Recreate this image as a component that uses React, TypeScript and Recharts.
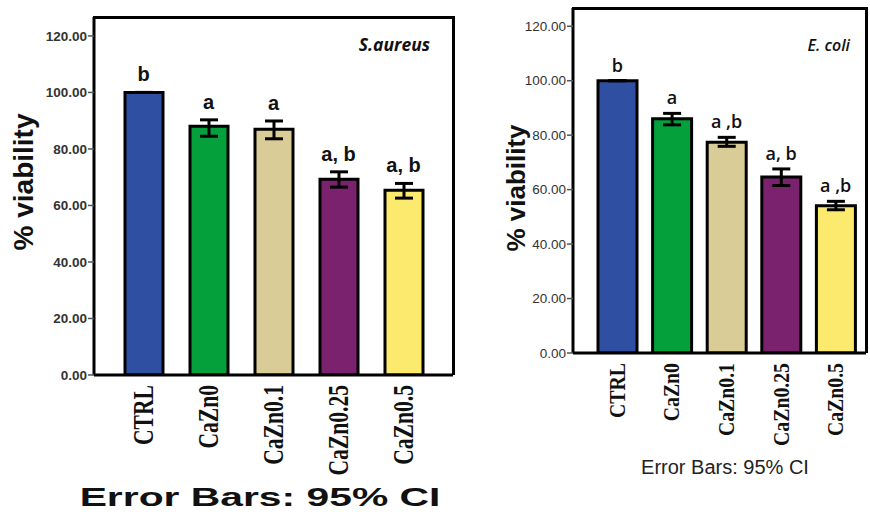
import React from "react";
import {
  Bar,
  Cell,
  ComposedChart,
  ErrorBar,
  LabelList,
  Line,
  XAxis,
  YAxis
} from "recharts";

const categories = ["CTRL", "CaZn0", "CaZn0.1", "CaZn0.25", "CaZn0.5"];
const barColors = ["#2f50a2", "#04a03c", "#d9cc97", "#7b226f", "#fcea6e"];
const yTicks = [0, 20, 40, 60, 80, 100, 120];

// S. aureus panel
const aureusMean = [100, 88.0, 87.0, 69.3, 65.4];
const aureusLow = [100, 84.5, 83.6, 66.5, 62.6];
const aureusHigh = [100, 90.3, 89.9, 71.9, 67.8];
const aureusLetters = ["b", "a", "a", "a, b", "a, b"];

// E. coli panel
const coliMean = [100, 86.0, 77.4, 64.6, 54.1];
const coliLow = [100, 83.8, 75.9, 61.5, 52.6];
const coliHigh = [100, 88.0, 79.2, 67.6, 55.7];
const coliLetters = ["b", "a", "a ,b", "a, b", "a ,b"];

function buildRows(mean: number[], low: number[], high: number[], letters: string[]) {
  return categories.map((name, i) => ({
    name,
    mean: mean[i],
    err: [mean[i] - low[i], high[i] - mean[i]],
    high: high[i],
    letter: letters[i]
  }));
}

const aureusRows = buildRows(aureusMean, aureusLow, aureusHigh, aureusLetters);
const coliRows = buildRows(coliMean, coliLow, coliHigh, coliLetters);

type PanelProps = {
  rows: any[];
  left: number;
  width: number;
  margin: { top: number; right: number; bottom: number; left: number };
  xHeight: number;
  xPad: { left: number; right: number };
  barSize: number;
  tickBold: boolean;
  catSize: number;
  catScale: number;
  letterFont: string;
  letterWeight: string;
  letterSize: number;
  letterOffset: number;
};

function Panel(p: PanelProps) {
  const CatTick = (t: any) => (
    <g transform={`translate(${t.x},${t.y + 2})`}>
      <text
        transform={`rotate(-90) scale(${p.catScale},1)`}
        textAnchor="end"
        dominantBaseline="central"
        fontFamily="'Liberation Serif', 'Times New Roman', serif"
        fontWeight="bold"
        fontSize={p.catSize}
        fill="#111"
      >
        {t.payload.value}
      </text>
    </g>
  );

  const Letter = (l: any) => (
    <text
      x={l.x}
      y={l.y - p.letterOffset}
      textAnchor="middle"
      fontFamily={p.letterFont}
      fontWeight={p.letterWeight}
      fontSize={p.letterSize}
      fill="#111"
    >
      {l.value}
    </text>
  );

  // plot box, used only for the top/right frame lines (SPSS style box)
  const plotW = p.width - p.margin.left - 60 - p.margin.right;
  const plotH = 512 - p.margin.top - p.margin.bottom - p.xHeight;

  return (
    <div style={{ position: "absolute", left: p.left, top: 0, width: p.width, height: 512 }}>
      <ComposedChart width={p.width} height={512} data={p.rows} margin={p.margin}>
        <XAxis
          dataKey="name"
          height={p.xHeight}
          padding={p.xPad}
          tickLine={false}
          axisLine={{ stroke: "#000", strokeWidth: 3 }}
          tick={CatTick}
          interval={0}
        />
        <YAxis
          domain={[0, 126.7]}
          ticks={yTicks}
          width={60}
          tickFormatter={(v: number) => v.toFixed(2)}
          tickSize={6}
          tickMargin={1}
          tickLine={{ stroke: "#555", strokeWidth: 1.5 }}
          axisLine={{ stroke: "#000", strokeWidth: 3 }}
          tick={{ fill: "#333", fontSize: 13.5, fontWeight: p.tickBold ? "bold" : "normal", fontFamily: "'Liberation Sans', Arial, sans-serif" }}
          allowDataOverflow
        />
        <Bar dataKey="mean" barSize={p.barSize} stroke="#000" strokeWidth={3} isAnimationActive={false}>
          {p.rows.map((r, i) => (
            <Cell key={r.name} fill={barColors[i]} />
          ))}
          <ErrorBar dataKey="err" direction="y" width={9} stroke="#000" strokeWidth={3} />
        </Bar>
        <Line dataKey="high" stroke="none" dot={false} activeDot={false} isAnimationActive={false}>
          <LabelList dataKey="letter" content={Letter} />
        </Line>
      </ComposedChart>
      <div
        style={{
          position: "absolute",
          left: p.margin.left + 60 - 1.5,
          top: p.margin.top - 1.5,
          width: plotW + 3,
          height: plotH + 1.5,
          borderTop: "3px solid #000",
          borderRight: "3px solid #000",
          boxSizing: "border-box",
          pointerEvents: "none"
        }}
      />
    </div>
  );
}

const abs = (left: number, top: number, extra: React.CSSProperties): React.CSSProperties => ({
  position: "absolute",
  left,
  top,
  whiteSpace: "nowrap",
  lineHeight: 1,
  ...extra
});

export default function App() {
  return (
    <div style={{ position: "absolute", left: 0, top: 0, width: 870, height: 512, background: "#fff", overflow: "hidden" }}>
      <Panel
        rows={aureusRows}
        left={0}
        width={470}
        margin={{ top: 17, right: 17, bottom: 17, left: 34 }}
        xHeight={120}
        xPad={{ left: 17, right: 17 }}
        barSize={38}
        tickBold={true}
        catSize={30}
        catScale={0.72}
        letterFont="'Liberation Sans', Arial, sans-serif"
        letterWeight="bold"
        letterSize={20}
        letterOffset={11}
      />
      <Panel
        rows={coliRows}
        left={460}
        width={410}
        margin={{ top: 8, right: 4, bottom: 19, left: 53 }}
        xHeight={140}
        xPad={{ left: 17, right: 3 }}
        barSize={39}
        tickBold={false}
        catSize={23}
        catScale={0.86}
        letterFont="'Open Sans', Calibri, sans-serif"
        letterWeight="600"
        letterSize={18}
        letterOffset={9}
      />

      <div style={abs(24, 182, { transform: "translate(-50%,-50%) rotate(-90deg)", fontFamily: "'Liberation Sans', Arial, sans-serif", fontWeight: "bold", fontSize: 28, color: "#111" })}>
        % viability
      </div>
      <div style={abs(516, 188, { transform: "translate(-50%,-50%) rotate(-90deg)", fontFamily: "'Liberation Sans', Arial, sans-serif", fontWeight: "bold", fontSize: 26, color: "#111" })}>
        % viability
      </div>

      <div style={abs(430, 45, { transform: "translate(-100%,-50%)", fontFamily: "'Open Sans', sans-serif", fontWeight: "bold", fontStyle: "italic", fontSize: 17.5, color: "#111" })}>
        S.aureus
      </div>
      <div style={abs(850, 45, { transform: "translate(-100%,-50%)", fontFamily: "'Open Sans', sans-serif", fontWeight: 600, fontStyle: "italic", fontSize: 16, color: "#111" })}>
        E. coli
      </div>

      <div style={abs(260, 497, { transform: "translate(-50%,-50%) scaleX(1.57)", fontFamily: "'Liberation Sans', Arial, sans-serif", fontWeight: "bold", fontSize: 26, color: "#111" })}>
        Error Bars: 95% CI
      </div>
      <div style={abs(725, 467, { transform: "translate(-50%,-50%)", fontFamily: "'Liberation Sans', Arial, sans-serif", fontSize: 20, color: "#222" })}>
        Error Bars: 95% CI
      </div>
    </div>
  );
}
